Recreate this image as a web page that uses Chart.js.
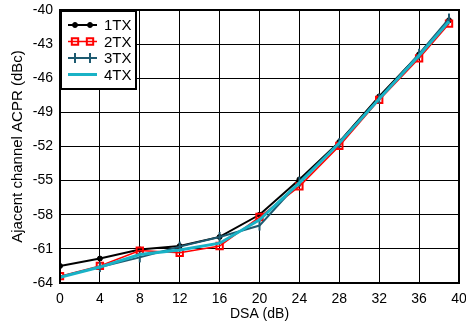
<!DOCTYPE html>
<html>
<head>
<meta charset="utf-8">
<script src="https://cdn.jsdelivr.net/npm/chart.js@4/dist/chart.umd.min.js"></script>
<style>
html,body{margin:0;padding:0;background:#fff;}
#wrap{width:466px;height:326px;position:relative;}
</style>
</head>
<body>
<div id="wrap"><canvas id="c" width="466" height="326"></canvas></div>
<script>
const dsa = [0, 4, 8, 12, 16, 20, 24, 28, 32, 36, 39];
const tx1 = [-62.5, -61.85, -61.05, -60.75, -59.95, -58.0, -54.9, -51.6, -47.6, -43.9, -40.9];
const tx2 = [-63.4, -62.5, -61.15, -61.35, -60.75, -58.2, -55.5, -51.95, -47.9, -44.25, -41.2];
const tx3 = [-63.45, -62.6, -61.75, -60.8, -59.95, -58.95, -55.1, -51.7, -47.8, -43.85, -40.75];
const tx4 = [-63.5, -62.6, -61.5, -61.1, -60.5, -58.45, -55.2, -51.7, -47.8, -44.0, -41.0];
const seriesLabels = ['1TX', '2TX', '3TX', '4TX'];
const xTicks = [0, 4, 8, 12, 16, 20, 24, 28, 32, 36, 40];
const yTicks = [-64, -61, -58, -55, -52, -49, -46, -43, -40];

function pts(ys){ return dsa.map((x,i)=>({x:x, y:ys[i]})); }

const FONT = "'Liberation Sans', Arial, sans-serif";

const legendBox = {
  id: 'legendBox',
  afterDraw(chart){
    const ctx = chart.ctx;
    const a = chart.chartArea;
    const x0 = a.left, y0 = a.top, w = 77, h = 80;
    ctx.save();
    ctx.fillStyle = '#fff';
    ctx.fillRect(x0, y0, w, h);
    ctx.strokeStyle = '#000';
    ctx.lineWidth = 2;
    ctx.strokeRect(x0+1, y0+1, w-2, h-2);
    chart.data.datasets.forEach((ds, i) => {
      const yy = y0 + 15 + i*16.5;
      ctx.strokeStyle = ds.borderColor;
      ctx.lineWidth = ds.borderWidth;
      ctx.beginPath();
      ctx.moveTo(x0+8, yy); ctx.lineTo(x0+37, yy); ctx.stroke();
      if (ds.pointRadius > 0) {
        [x0+15, x0+30].forEach(px => {
          ctx.fillStyle = ds.pointBackgroundColor;
          ctx.strokeStyle = ds.borderColor;
          ctx.lineWidth = ds.pointBorderWidth || 1;
          Chart.helpers.drawPoint(ctx, {
            pointStyle: ds.pointStyle, radius: ds.pointRadius, borderWidth: ds.pointBorderWidth || 1, rotation: ds.pointRotation || 0
          }, px, yy);
        });
      }
      ctx.fillStyle = '#000';
      ctx.font = '15px ' + FONT;
      ctx.textBaseline = 'middle';
      ctx.textAlign = 'left';
      ctx.fillText(ds.label, x0+44, yy+1);
    });
    ctx.restore();
  }
};

new Chart(document.getElementById('c'), {
  type: 'line',
  data: {
    datasets: [
      { label: seriesLabels[0], data: pts(tx1), order: 3, borderColor: '#000', backgroundColor: '#000', pointBackgroundColor: '#000',
        borderWidth: 2, pointStyle: 'circle', pointRadius: 2.5, pointBorderWidth: 1 },
      { label: seriesLabels[1], data: pts(tx2), order: 2, borderColor: '#ff0000', backgroundColor: 'rgba(0,0,0,0)', pointBackgroundColor: 'rgba(0,0,0,0)',
        borderWidth: 1.5, pointStyle: 'rect', pointRadius: 4.5, pointBorderWidth: 2 },
      { label: seriesLabels[2], data: pts(tx3), order: 1, borderColor: '#1d5a70', backgroundColor: '#1d5a70', pointBackgroundColor: '#1d5a70',
        borderWidth: 2, pointStyle: 'line', pointRotation: 90, pointRadius: 5, pointBorderWidth: 2 },
      { label: seriesLabels[3], data: pts(tx4), order: 0, borderColor: '#19b2c6', backgroundColor: '#19b2c6',
        borderWidth: 3, pointRadius: 0 }
    ]
  },
  options: {
    responsive: false,
    animation: false,
    layout: { padding: { top: 10, right: 6, left: 0, bottom: 0 } },
    plugins: { legend: { display: false }, tooltip: { enabled: false } },
    scales: {
      x: {
        type: 'linear', min: 0, max: 40,
        afterBuildTicks: s => { s.ticks = xTicks.map(v => ({value: v})); },
        afterFit: s => { s.height = 43; s.paddingLeft = 0; s.paddingRight = 0; },
        grid: { color: '#000', lineWidth: 1, drawTicks: false },
        border: { color: '#000', width: 2 },
        ticks: { color: '#000', font: { family: FONT, size: 14 }, padding: 8, maxRotation: 0 },
        title: { display: true, text: 'DSA (dB)', color: '#000', font: { family: FONT, size: 14 }, padding: { top: 0, bottom: 3 } }
      },
      y: {
        type: 'linear', min: -64, max: -40,
        afterBuildTicks: s => { s.ticks = yTicks.map(v => ({value: v})); },
        afterFit: s => { s.width = 60; s.paddingTop = 0; s.paddingBottom = 0; },
        grid: { color: '#000', lineWidth: 1, drawTicks: false },
        border: { color: '#000', width: 2 },
        ticks: { color: '#000', font: { family: FONT, size: 14 }, padding: 7 },
        title: { display: true, text: 'Ajacent channel ACPR (dBc)', color: '#000', font: { family: FONT, size: 15 }, padding: { top: 9, bottom: 0 } }
      }
    }
  },
  plugins: [{
    id: 'frame',
    afterDatasetsDraw(chart){
      const a = chart.chartArea, ctx = chart.ctx;
      ctx.save(); ctx.strokeStyle = '#000'; ctx.lineWidth = 2;
      ctx.strokeRect(a.left, a.top, a.right - a.left, a.bottom - a.top);
      ctx.restore();
    }
  }, legendBox]
});
</script>
</body>
</html>
